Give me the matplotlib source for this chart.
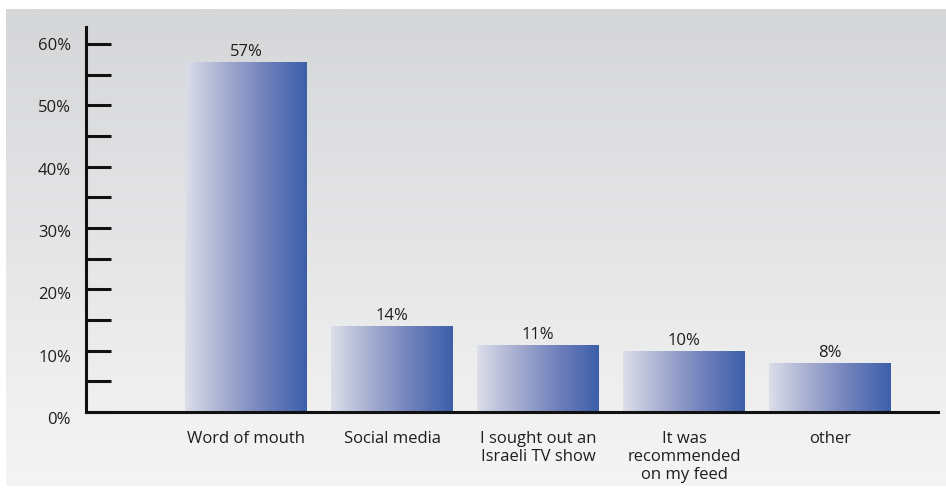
import numpy as np
import matplotlib
matplotlib.use("Agg")
import matplotlib.pyplot as plt
from matplotlib.colors import LinearSegmentedColormap
from matplotlib.transforms import ScaledTranslation

plt.rcParams["font.family"] = ["Open Sans", "DejaVu Sans"]

categories = ["Word of mouth", "Social media", "I sought out an\nIsraeli TV show",
              "It was\nrecommended\non my feed", "other"]
shares = [57, 14, 11, 10, 8]
major_ticks = [0, 10, 20, 30, 40, 50, 60]
minor_ticks = [5, 15, 25, 35, 45, 55]
tick_labels = ["0%", "10%", "20%", "30%", "40%", "50%", "60%"]

W, H = 946, 488
fig = plt.figure(figsize=(W / 100, H / 100), dpi=100)
fig.patch.set_facecolor("white")

# grey backdrop with a soft vertical gradient
bg = fig.add_axes([0, 0, 1, 1], zorder=-5)
bg.set_xlim(0, W)
bg.set_ylim(H, 0)
bg.axis("off")
grad = np.linspace(0, 1, 256).reshape(-1, 1)
bg_cmap = LinearSegmentedColormap.from_list("bg", ["#d5d6d8", "#f5f5f5"])
bg.imshow(grad, cmap=bg_cmap, extent=[6, W, 486, 9], aspect="auto")

ax_left, ax_right, ax_top, ax_bottom = 86, 938, 27, 412
ax = fig.add_axes([ax_left / W, (H - ax_bottom) / H,
                   (ax_right - ax_left) / W, (ax_bottom - ax_top) / H])
ax.patch.set_alpha(0)

x = np.arange(len(categories))
bars = ax.bar(x, shares, width=0.83, color="none", edgecolor="none", zorder=2)

bar_cmap = LinearSegmentedColormap.from_list(
    "bar", ["#dcdee9", "#a4acd0", "#6f80bb", "#3d5fab"])
hgrad = np.linspace(0, 1, 256).reshape(1, -1)
for b in bars:
    x0, w, h = b.get_x(), b.get_width(), b.get_height()
    im = ax.imshow(hgrad, cmap=bar_cmap, extent=[x0, x0 + w, 0, h],
                   aspect="auto", zorder=2)
    im.set_clip_path(b)

txt = "#1e1e1e"
fs = 12
px = fig.dpi_scale_trans
for xi, v in zip(x, shares):
    ax.text(xi, v, f"{v}%", ha="center", va="baseline", fontsize=fs,
            color=txt,
            transform=ax.transData + ScaledTranslation(0, 6 / 100, px))

ax.set_xlim((ax_left - 246) / 146, (ax_right - 246) / 146)
px_per_unit = (412 - 44) / 60
ax.set_ylim(0, (ax_bottom - ax_top) / px_per_unit)

for s in ["top", "right"]:
    ax.spines[s].set_visible(False)
for s in ["left", "bottom"]:
    ax.spines[s].set_linewidth(2.2)
    ax.spines[s].set_color("#111111")
    ax.spines[s].set_zorder(3)

ax.set_yticks(major_ticks)
ax.set_yticks(minor_ticks, minor=True)
ax.set_yticklabels([])
ax.tick_params(axis="y", which="both", direction="in", length=18, width=2.2,
               color="#111111")
for v, lab in zip(major_ticks, tick_labels):
    drop = 2 + (60 - v) / 60 * 6
    ax.text(0, v, lab, ha="right", va="center", fontsize=fs, color=txt,
            transform=ax.get_yaxis_transform()
            + ScaledTranslation(-15 / 100, -drop / 100, px))

ax.set_xticks(x)
ax.set_xticklabels(categories, fontsize=fs, color=txt, linespacing=1.15,
                   va="top")
ax.tick_params(axis="x", length=0, pad=14)

fig.savefig("out.png", dpi=100)
